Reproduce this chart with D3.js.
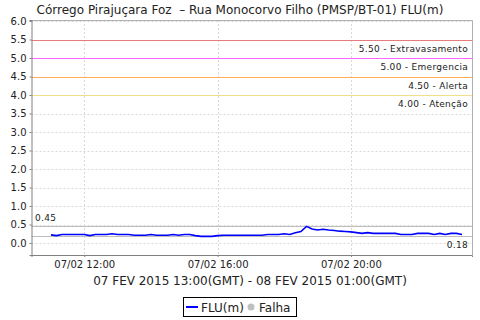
<!DOCTYPE html>
<html>
<head>
<meta charset="utf-8">
<script src="https://cdn.jsdelivr.net/npm/d3@7"></script>
<style>
  body { margin: 0; background: #fff; }
  svg { display: block; font-family: "DejaVu Sans", sans-serif; }
  text { white-space: pre; }
</style>
</head>
<body>
<svg id="chart" width="480" height="320"></svg>
<script>
// series: FLU(m), one reading every 10 minutes starting 07/02 11:00
var startTime = "2015-02-07T11:00";
var stepMinutes = 10;
var fluValues = [
  0.22, 0.20, 0.23, 0.23, 0.23, 0.23, 0.23, 0.20, 0.23, 0.23,
  0.23, 0.25, 0.23, 0.23, 0.23, 0.21, 0.21, 0.21, 0.23, 0.21,
  0.21, 0.21, 0.23, 0.21, 0.23, 0.23, 0.20, 0.18, 0.18, 0.18,
  0.20, 0.21, 0.21, 0.21, 0.21, 0.21, 0.21, 0.21, 0.21, 0.23,
  0.23, 0.23, 0.25, 0.23, 0.28, 0.31, 0.45, 0.38, 0.35, 0.37,
  0.35, 0.34, 0.32, 0.31, 0.30, 0.28, 0.26, 0.28, 0.26, 0.26,
  0.26, 0.26, 0.26, 0.23, 0.23, 0.23, 0.26, 0.26, 0.26, 0.23,
  0.26, 0.23, 0.26, 0.26, 0.23
];

var thresholdValues = [5.5, 5.0, 4.5, 4.0];
var thresholdLabels = ["5.50 - Extravasamento", "5.00 - Emergencia", "4.50 - Alerta", "4.00 - Atenção"];
var thresholdColors = ["#e87c7c", "#ff66ff", "#ffad5c", "#f0e08c"];

var maxValue = 0.45, minValue = 0.18;
var yTicks = [0, 0.5, 1, 1.5, 2, 2.5, 3, 3.5, 4, 4.5, 5, 5.5, 6];
var xDomain = ["2015-02-07T10:25", "2015-02-07T23:38"];

var titleText = "Córrego Pirajuçara Foz  – Rua Monocorvo Filho (PMSP/BT-01) FLU(m)";
var xAxisLabel = "07 FEV 2015 13:00(GMT) - 08 FEV 2015 01:00(GMT)";
var legendLabels = ["FLU(m)", "Falha"];

var parse = d3.utcParse("%Y-%m-%dT%H:%M");
var t0 = parse(startTime);
var data = fluValues.map(function(v, i) {
  return { t: d3.utcMinute.offset(t0, i * stepMinutes), v: v };
});

var svg = d3.select("#chart");
var plotLeft = 31.5, plotRight = 472, plotTop = 20, plotBottom = 255;

var x = d3.scaleUtc().domain(xDomain.map(parse)).range([plotLeft, plotRight]);
var y = d3.scaleLinear().domain([-0.324, 6.027]).range([plotBottom, plotTop]);

// title
svg.append("text")
  .attr("x", 240).attr("y", 14)
  .attr("text-anchor", "middle")
  .attr("font-size", 12).attr("fill", "#222")
  .text(titleText);

// gridlines
var xTicks = d3.utcHour.every(4).range(x.domain()[0], x.domain()[1]);
svg.append("g").selectAll("line").data(yTicks).join("line")
  .attr("x1", plotLeft).attr("x2", plotRight)
  .attr("y1", function(d) { return Math.round(y(d)) + 0.5; })
  .attr("y2", function(d) { return Math.round(y(d)) + 0.5; })
  .attr("stroke", "#d8d8d8").attr("stroke-dasharray", "2,2");
svg.append("g").selectAll("line").data(xTicks).join("line")
  .attr("x1", function(d) { return Math.round(x(d)) + 0.5; })
  .attr("x2", function(d) { return Math.round(x(d)) + 0.5; })
  .attr("y1", plotTop).attr("y2", plotBottom)
  .attr("stroke", "#d8d8d8").attr("stroke-dasharray", "2,2");

// plot border (top/right)
svg.append("path")
  .attr("d", "M" + plotLeft + "," + (plotTop + 0.5) + "H" + (plotRight + 0.5) + "V" + plotBottom)
  .attr("fill", "none").attr("stroke", "#b0b0b0");

// threshold lines + labels
thresholdValues.forEach(function(v, i) {
  var yy = Math.round(y(v)) + 0.5;
  svg.append("line")
    .attr("x1", plotLeft).attr("x2", plotRight)
    .attr("y1", yy).attr("y2", yy)
    .attr("stroke", thresholdColors[i]).attr("stroke-width", 1);
  svg.append("text")
    .attr("x", 468).attr("y", yy + 11)
    .attr("text-anchor", "end")
    .attr("font-size", 9).attr("fill", "#222")
    .attr("letter-spacing", 0.3)
    .text(thresholdLabels[i]);
});

// min / max markers
[maxValue, minValue].forEach(function(v) {
  var yy = Math.round(y(v)) + 0.5;
  svg.append("line")
    .attr("x1", plotLeft).attr("x2", plotRight)
    .attr("y1", yy).attr("y2", yy)
    .attr("stroke", "#bdbdbd");
});
svg.append("text")
  .attr("x", 35).attr("y", Math.round(y(maxValue)) - 5)
  .attr("font-size", 9).attr("fill", "#222").attr("letter-spacing", 0.3)
  .text(maxValue.toFixed(2));
svg.append("text")
  .attr("x", 468).attr("y", Math.round(y(minValue)) + 12)
  .attr("text-anchor", "end")
  .attr("font-size", 9).attr("fill", "#222").attr("letter-spacing", 0.3)
  .text(minValue.toFixed(2));

// data line
var line = d3.line()
  .x(function(d) { return x(d.t); })
  .y(function(d) { return y(d.v); });
svg.append("path").datum(data)
  .attr("d", line)
  .attr("fill", "none").attr("stroke", "#0000ff").attr("stroke-width", 1.6);

// axes
var yAxis = d3.axisLeft(y).tickValues(yTicks).tickSize(2).tickPadding(3)
  .tickFormat(d3.format(".1f"));
var gy = svg.append("g").attr("transform", "translate(" + plotLeft + ",0)").call(yAxis);
var xAxis = d3.axisBottom(x).tickValues(xTicks).tickSize(2).tickPadding(4)
  .tickFormat(d3.utcFormat("%d/%m %H:%M"));
var gx = svg.append("g").attr("transform", "translate(0," + plotBottom + ")").call(xAxis);
[gx, gy].forEach(function(g) {
  g.select(".domain").attr("stroke", "#808080");
  g.selectAll(".tick line").attr("stroke", "#808080");
  g.selectAll(".tick text").attr("fill", "#222").attr("font-size", 10)
    .attr("font-family", "DejaVu Sans, sans-serif");
});

svg.append("text")
  .attr("x", 250).attr("y", 285)
  .attr("text-anchor", "middle")
  .attr("font-size", 12).attr("fill", "#222")
  .text(xAxisLabel);

// legend
var lg = svg.append("g");
lg.append("rect")
  .attr("x", 183.5).attr("y", 297.5).attr("width", 113).attr("height", 19)
  .attr("fill", "#fff").attr("stroke", "#000");
lg.append("line")
  .attr("x1", 186).attr("x2", 198).attr("y1", 307).attr("y2", 307)
  .attr("stroke", "#0000ff").attr("stroke-width", 2);
lg.append("text")
  .attr("x", 201).attr("y", 311.5)
  .attr("font-size", 12).attr("fill", "#222")
  .text(legendLabels[0]);
lg.append("circle")
  .attr("cx", 251).attr("cy", 307).attr("r", 3.5)
  .attr("fill", "#c0c0c0");
lg.append("text")
  .attr("x", 259).attr("y", 311.5)
  .attr("font-size", 12).attr("fill", "#222")
  .text(legendLabels[1]);
</script>
</body>
</html>
